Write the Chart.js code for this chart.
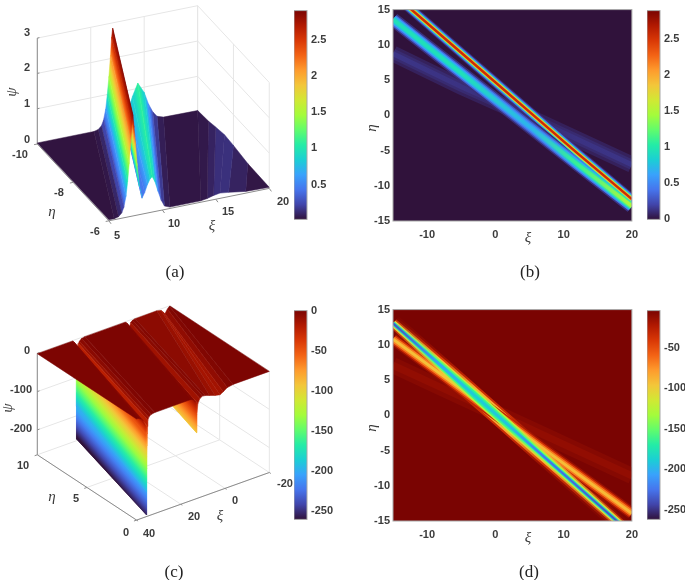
<!DOCTYPE html>
<html>
<head>
<meta charset="utf-8">
<script src="https://cdn.jsdelivr.net/npm/chart.js@4"></script>
<style>
html, body { margin: 0; background: #fff; }
#page { position: relative; width: 685px; height: 580px; overflow: hidden; }
canvas { position: absolute; filter: blur(0.45px); }
.cap { position: absolute; transform: translateX(-50%); font: 17px "Liberation Serif", serif; color: #222; }
</style>
</head>
<body>
<div id="page">
  <canvas id="surfA" width="340" height="290" style="left:0;top:0"></canvas>
  <canvas id="barA" width="46" height="230" style="left:294px;top:0"></canvas>
  <canvas id="heatB" width="300" height="250" style="left:345px;top:0"></canvas>
  <canvas id="barB" width="38" height="230" style="left:647px;top:0"></canvas>
  <canvas id="surfC" width="340" height="290" style="left:0;top:290px"></canvas>
  <canvas id="barC" width="46" height="230" style="left:294px;top:300px"></canvas>
  <canvas id="heatD" width="300" height="250" style="left:345px;top:300px"></canvas>
  <canvas id="barD" width="38" height="230" style="left:647px;top:300px"></canvas>
  <div class="cap" style="left:175px;top:262px">(a)</div>
  <div class="cap" style="left:530px;top:262px">(b)</div>
  <div class="cap" style="left:174px;top:562px">(c)</div>
  <div class="cap" style="left:529px;top:562px">(d)</div>
</div>
<script>
// panel (a), surface strips, low xi to high xi
const aBackXi   = [5, 10.3, 10.7, 11.0, 11.2, 11.4, 11.55, 11.7, 11.85, 11.95, 12.05, 12.15, 12.3, 12.45, 12.65, 12.9, 13.2, 13.5, 13.9, 14.4, 15, 15.4, 15.8, 16.2, 16.8, 20, 20, 20, 20, 20, 20, 20];
const aBackEta  = [-10, -10, -10, -10, -10, -10, -10, -10, -10, -10, -10, -10, -10, -10, -10, -10, -10, -10, -10, -10, -10, -10, -10, -10, -10, -10, -9.4, -9, -8.5, -8, -7.2, -6];
const aBackPsi  = [.03, .03, .06, .15, .3, .6, 1.0, 1.5, 2.1, 2.6, 2.85, 2.6, 2.1, 1.5, .9, .45, .3, .45, .8, 1.15, .85, .5, .25, .1, .04, .03, .06, .11, .16, .13, .05, .03];
const aFrontXi  = [5, 5.5, 5.9, 6.2, 6.4, 6.6, 6.75, 6.9, 7.05, 7.15, 7.25, 7.35, 7.5, 7.65, 7.85, 8.1, 8.35, 8.6, 8.85, 9.05, 9.3, 9.6, 9.9, 10.2, 10.7, 13.6, 14.2, 14.8, 15.4, 16.2, 17.8, 20];
const aFrontPsi = [.03, .03, .06, .15, .3, .6, 1.0, 1.5, 2.1, 2.6, 2.85, 2.5, 2.0, 1.4, .8, .45, .6, .8, .95, 1.0, .85, .55, .28, .1, .04, .04, .07, .12, .15, .12, .05, .03];
const aXiTicks = [5, 10, 15, 20];
const aEtaTicks = [-10, -8, -6];
const aPsiTicks = [0, 1, 2, 3];

// panel (b), ridges along xi, each row of levels is one nested band
const bStations = [-15, -5, 5, 12, 20];
const bRidge1Eta = [17.27, 8.88, 0.49, -5.38, -11.9];
const bRidge2Eta = [13.6, 6.0, -1.6, -6.92, -12.9];
const bRidge3Eta = [8.75, 4.04, -0.25, -3.4, -7];
const bRidge1Levels = [
  [.12, .12, .12, .12, .12], [.4, .4, .4, .4, .4], [.8, .8, .8, .8, .8],
  [1.4, 1.4, 1.4, 1.4, 1.4], [2.0, 2.0, 2.0, 2.0, 2.0], [2.55, 2.55, 2.55, 2.55, 2.55]
];
const bRidge2Levels = [
  [.12, .12, .1, .12, .15], [.35, .35, .25, .4, .5], [.6, .6, .42, .65, .85],
  [.8, .8, .58, .9, 1.2], [.95, .95, .7, 1.1, 1.5]
];
const bRidge3Levels = [
  [.06, .06, .05, .06, .06], [.1, .1, .08, .1, .1], [.14, .13, .1, .13, .14]
];

// panel (c), strips from the eta=10 edge to the eta=0 edge, low xi to high xi
const cBackXi  = [-20, -19.7, -18.8, -17.7, -16.9, -16, -14, -4.2, -3, -2.2, -1.7, -1.4, -1.15, -1, -.8, -.4, .3, 18.5, 20, 21, 21.4, 21.6, 21.75, 21.85, 21.95, 22.05, 22.1, 22.15, 22.2, 22.3, 22.4, 22.55, 22.8, 23.1, 23.4, 24, 40];
const cFrontXi = [-20, -3.6, -1, .8, 2.3, 4.5, 7, 9, 10.2, 11.4, 12.3, 12.7, 12.9, 13, 13.4, 14.2, 15.5, 31.8, 33.5, 34.5, 34.9, 35.05, 35.15, 35.25, 35.3, 35.35, 35.4, 35.45, 35.5, 35.6, 35.7, 35.9, 36.2, 37, 38, 39.2, 40];
const cBackPsi  = [-1, -1, -6, -16, -10, -4, -1, -1.2, -3, -7, -18, -45, -93, -45, -12, -4, -1, -1, -3, -8, -13, -22, -35, -60, -85, -110, -140, -175, -261, -175, -75, -35, -18, -10, -5, -1, -1];
const cFrontPsi = [-1, -1, -4, -11, -16, -13, -8, -4, -3, -7, -18, -45, -93, -45, -12, -4, -1, -1, -3, -8, -15, -30, -50, -80, -110, -140, -170, -200, -261, -200, -100, -50, -25, -12, -5, -1, -1];
const cXiTicks = [40, 20, 0, -20];
const cEtaTicks = [0, 5, 10];
const cPsiTicks = [0, -100, -200];

// panel (d)
const dStations = [-15, -8, -3, 2, 7, 20];
const dRidge1Eta = [13.05, 7.07, 2.79, -1.49, -5.76, -16.88];
const dRidge2Eta = [10.8, 5.86, 2.33, -1.2, -4.73, -13.9];
const dRidge3Eta = [7.1, 3.96, 1.72, -.53, -2.77, -8.6];
const dRidge1Levels = [
  [-4, -14, -35, -35, -12, -4], [-4, -40, -85, -85, -40, -4], [-30, -100, -130, -125, -90, -30],
  [-100, -150, -165, -160, -135, -100], [-180, -185, -180, -180, -180, -180], [-238, -205, -190, -195, -225, -240]
];
const dRidge2Levels = [
  [-14, -14, -30, -30, -14, -14], [-38, -38, -55, -55, -38, -38], [-68, -68, -80, -80, -68, -68], [-92, -95, -100, -100, -92, -90]
];
const dRidge3Levels = [
  [-8, -8, -8, -8, -8, -8], [-12, -12, -12, -12, -12, -12]
];

const heatXTicks = [-10, 0, 10, 20];
const heatYTicks = [-15, -10, -5, 0, 5, 10, 15];

// colorbars
const aBarRange = [0.02, 2.9];
const aBarTicks = [0.5, 1, 1.5, 2, 2.5];
const bBarRange = [0, 2.89];
const bBarTicks = [0, 0.5, 1, 1.5, 2, 2.5];
const cBarRange = [-261, 0];
const cBarTicks = [-250, -200, -150, -100, -50, 0];
const dBarRange = [-262, -4];
const dBarTicks = [-250, -200, -150, -100, -50];

const turbo = ['#30123b', '#4145ab', '#4675ed', '#39a2fc', '#1bcfd4', '#24eca6', '#61fc6c', '#a4fc3b', '#d1e834', '#f3c63a', '#fe9b2d', '#f36315', '#d93806', '#b11901', '#7a0402'];

const tickFont = { family: '"Liberation Sans", Arial, sans-serif', size: 11, weight: 'bold' };
const tickColor = '#3c3c3c';
const labelFont = 'italic 15px "Liberation Serif", serif';
const gridColor = '#e6e6e6';
const axisColor = '#8c8c8c';

function hex(c) { return [1, 3, 5].map(i => parseInt(c.substr(i, 2), 16)); }

function turboColor(v, range) {
  const t = Math.min(1, Math.max(0, (v - range[0]) / (range[1] - range[0]))) * (turbo.length - 1);
  const i = Math.min(turbo.length - 2, Math.floor(t));
  const a = hex(turbo[i]), b = hex(turbo[i + 1]), f = t - i;
  return 'rgb(' + a.map((x, k) => Math.round(x + (b[k] - x) * f)).join(',') + ')';
}

// draws axis words and 3d tick labels, every chart passes its own list
const textPlugin = {
  id: 'panelText',
  afterDraw(chart, args, opts) {
    const ctx = chart.ctx;
    (opts.items || []).forEach(it => {
      ctx.save();
      ctx.translate(it.x, it.y);
      if (it.rot) ctx.rotate(it.rot);
      ctx.font = it.font || (tickFont.weight + ' ' + tickFont.size + 'px ' + tickFont.family);
      ctx.fillStyle = tickColor;
      ctx.textAlign = 'center';
      ctx.textBaseline = 'middle';
      ctx.fillText(it.text, 0, 0);
      ctx.restore();
    });
  }
};

const framePlugin = {
  id: 'heatFrame',
  beforeDatasetsDraw(chart, args, opts) {
    if (!opts.fill) return;
    const a = chart.chartArea;
    chart.ctx.fillStyle = opts.fill;
    chart.ctx.fillRect(a.left, a.top, a.width, a.height);
  },
  afterDatasetsDraw(chart, args, opts) {
    if (!opts.frame) return;
    const a = chart.chartArea;
    chart.ctx.strokeStyle = '#a8a8a8';
    chart.ctx.lineWidth = 1;
    chart.ctx.strokeRect(a.left, a.top, a.width, a.height);
  }
};

Chart.register(textPlugin, framePlugin);

function makeColorbar(id, range, ticks) {
  const canvas = document.getElementById(id);
  new Chart(canvas, {
    type: 'bar',
    data: {
      labels: [''],
      datasets: [{
        data: [range],
        barPercentage: 1,
        categoryPercentage: 1,
        backgroundColor(c) {
          const area = c.chart.chartArea;
          if (!area) return '#000';
          const g = c.chart.ctx.createLinearGradient(0, area.bottom, 0, area.top);
          turbo.forEach((col, i) => g.addColorStop(i / (turbo.length - 1), col));
          return g;
        }
      }]
    },
    options: {
      responsive: false,
      animation: false,
      layout: { padding: { top: 5, bottom: 9 } },
      plugins: { legend: { display: false }, tooltip: { enabled: false }, heatFrame: { frame: true } },
      scales: {
        x: { display: false },
        y: {
          position: 'right',
          min: range[0],
          max: range[1],
          grid: { display: false, drawTicks: false },
          border: { display: false },
          afterBuildTicks(s) { s.ticks = ticks.map(v => ({ value: v })); },
          afterFit(s) { s.width = canvas.width - 13; },
          ticks: { font: tickFont, color: tickColor, padding: 4, autoSkip: false, callback: v => String(v) }
        }
      }
    }
  });
}

function bandSets(stations, etas, levels, widths, range) {
  const pts = stations.map((x, i) => ({ x: x, y: etas[i] }));
  return levels.map((row, k) => ({
    data: pts,
    showLine: true,
    pointRadius: 0,
    tension: 0,
    borderWidth: widths[k],
    borderCapStyle: 'butt',
    borderColor(c) {
      const s = c.chart.scales.x;
      if (!s || !c.chart.chartArea) return '#000';
      const g = c.chart.ctx.createLinearGradient(s.left, 0, s.right, 0);
      stations.forEach((x, i) => g.addColorStop((x - s.min) / (s.max - s.min), turboColor(row[i], range)));
      return g;
    }
  }));
}

function makeHeat(id, bands, bgValue, range, items) {
  const canvas = document.getElementById(id);
  // chart draws the first dataset last, bands are listed in paint order
  new Chart(canvas, {
    type: 'scatter',
    data: { datasets: bands.flat().reverse() },
    options: {
      responsive: false,
      animation: false,
      layout: { padding: { top: 5, right: 11 } },
      plugins: {
        legend: { display: false },
        tooltip: { enabled: false },
        heatFrame: { frame: true, fill: turboColor(bgValue, range) },
        panelText: { items: items }
      },
      scales: {
        x: {
          type: 'linear', min: -15, max: 20,
          grid: { display: false, drawTicks: false },
          border: { display: false },
          afterBuildTicks(s) { s.ticks = heatXTicks.map(v => ({ value: v })); },
          afterFit(s) { s.height = 29; },
          ticks: { font: tickFont, color: tickColor, padding: 7, maxRotation: 0, autoSkip: false, callback: v => String(v) }
        },
        y: {
          type: 'linear', min: -15, max: 15,
          grid: { display: false, drawTicks: false },
          border: { display: false },
          afterBuildTicks(s) { s.ticks = heatYTicks.map(v => ({ value: v })); },
          afterFit(s) { s.width = 48; },
          ticks: { font: tickFont, color: tickColor, padding: 3, autoSkip: false, callback: v => String(v) }
        }
      }
    }
  });
}

// one strip of a surface, shaded across its width from v0 to v1
// small steps stay solid, a gradient on a fanned strip shows seams
function stripSet(p0, p1, q1, q0, v0, v1, range) {
  const solid = turboColor((v0 + v1) / 2, range);
  const shade = c => {
    const sx = c.chart.scales.x, sy = c.chart.scales.y;
    if (!sx || !c.chart.chartArea) return solid;
    if (Math.abs(v1 - v0) / (range[1] - range[0]) < 0.06) return solid;
    const px = p => ({ x: sx.getPixelForValue(p.x), y: sy.getPixelForValue(p.y) });
    const a0 = px(p0), b0 = px(q0), a1 = px(p1), b1 = px(q1);
    const m0 = { x: (a0.x + b0.x) / 2, y: (a0.y + b0.y) / 2 };
    const m1 = { x: (a1.x + b1.x) / 2, y: (a1.y + b1.y) / 2 };
    const dx = (b0.x - a0.x) + (b1.x - a1.x), dy = (b0.y - a0.y) + (b1.y - a1.y);
    const len = Math.hypot(dx, dy) || 1;
    const nx = -dy / len, ny = dx / len;
    const d = (m1.x - m0.x) * nx + (m1.y - m0.y) * ny;
    if (Math.abs(d) < 0.01) return solid;
    const g = c.chart.ctx.createLinearGradient(m0.x, m0.y, m0.x + nx * d, m0.y + ny * d);
    for (let k = 0; k <= 6; k++) g.addColorStop(k / 6, turboColor(v0 + (v1 - v0) * k / 6, range));
    return g;
  };
  return {
    data: [p0, p1, q1, q0, p0],
    showLine: true,
    pointRadius: 0,
    tension: 0,
    fill: 'shape',
    backgroundColor: shade,
    borderColor: shade,
    borderWidth: 0.5
  };
}

function lineSet(pts, color, w) {
  return { data: pts, showLine: true, pointRadius: 0, tension: 0, fill: false, borderColor: color, borderWidth: w };
}

function makeSurface(id, sets, items) {
  const canvas = document.getElementById(id);
  new Chart(canvas, {
    type: 'scatter',
    data: { datasets: sets.slice().reverse() },
    options: {
      responsive: false,
      animation: false,
      layout: { padding: 0 },
      plugins: { legend: { display: false }, tooltip: { enabled: false }, panelText: { items: items } },
      scales: {
        x: { type: 'linear', display: false, min: 0, max: canvas.width },
        y: { type: 'linear', display: false, min: 0, max: canvas.height, reverse: true }
      }
    }
  });
}

// ---- panel a
const pa = (xi, eta, psi) => ({
  x: 37.3 + (xi - 5) * 10.69 + (eta + 10) * 17.9,
  y: 144 - (xi - 5) * 2.16 + (eta + 10) * 19.2 - psi * 35.3
});
const aSets = [];
aPsiTicks.forEach(p => {
  aSets.push(lineSet([pa(5, -10, p), pa(20, -10, p), pa(20, -6, p)], gridColor, 1));
});
aXiTicks.forEach(x => {
  aSets.push(lineSet([pa(x, -10, 0), pa(x, -10, 3)], gridColor, 1));
});
aEtaTicks.forEach(e => {
  aSets.push(lineSet([pa(20, e, 0), pa(20, e, 3)], gridColor, 1));
});
aSets.push(lineSet([pa(5, -6, 0), pa(20, -6, 0)], axisColor, 1));
aSets.push(lineSet([pa(5, -10, 0), pa(5, -6, 0)], axisColor, 1));
aSets.push(lineSet([pa(5, -10, 0), pa(5, -10, 3)], axisColor, 1));
aXiTicks.forEach(x => aSets.push(lineSet([pa(x, -6, 0), pa(x - .05, -5.85, 0)], axisColor, 1)));
aEtaTicks.forEach(e => aSets.push(lineSet([pa(5, e, 0), pa(4.7, e, 0)], axisColor, 1)));
aPsiTicks.forEach(p => aSets.push(lineSet([pa(5, -10, p), pa(5.2, -10, p)], axisColor, 1)));
// far strips first
for (let i = aBackXi.length - 2; i >= 0; i--) {
  aSets.push(stripSet(
    pa(aBackXi[i + 1], aBackEta[i + 1], aBackPsi[i + 1]),
    pa(aBackXi[i], aBackEta[i], aBackPsi[i]),
    pa(aFrontXi[i], -6, aFrontPsi[i]),
    pa(aFrontXi[i + 1], -6, aFrontPsi[i + 1]),
    (aBackPsi[i + 1] + aFrontPsi[i + 1]) / 2,
    (aBackPsi[i] + aFrontPsi[i]) / 2,
    aBarRange
  ));
}
makeSurface('surfA', aSets, [
  { text: '3', x: 27, y: 33 }, { text: '2', x: 27, y: 68 }, { text: '1', x: 27, y: 104 }, { text: '0', x: 27, y: 140 },
  { text: '-10', x: 20, y: 155 }, { text: '-8', x: 59, y: 193 }, { text: '-6', x: 95, y: 232 },
  { text: '5', x: 117, y: 236 }, { text: '10', x: 174, y: 224 }, { text: '15', x: 228, y: 212 }, { text: '20', x: 283, y: 202 },
  { text: 'ψ', x: 12, y: 92, font: labelFont, rot: -Math.PI / 2 },
  { text: 'η', x: 52, y: 212, font: labelFont },
  { text: 'ξ', x: 212, y: 226, font: labelFont }
]);
makeColorbar('barA', aBarRange, aBarTicks);

// ---- panel b
makeHeat('heatB', [
  bandSets(bStations, bRidge3Eta, bRidge3Levels, [16, 10, 5], bBarRange),
  bandSets(bStations, bRidge1Eta, bRidge1Levels.slice(0, 2), [10, 8], bBarRange),
  bandSets(bStations, bRidge2Eta, bRidge2Levels, [14, 11, 8.5, 6, 3.5], bBarRange),
  bandSets(bStations, bRidge1Eta, bRidge1Levels.slice(2), [6, 4.6, 3.6, 2.4], bBarRange)
], 0, bBarRange, [
  { text: 'ξ', x: 528 - 345, y: 238, font: labelFont },
  { text: 'η', x: 372 - 345, y: 128, font: labelFont, rot: -Math.PI / 2 }
]);
makeColorbar('barB', bBarRange, bBarTicks);

// ---- panel c
const pc = (xi, eta, psi) => ({
  x: 136.6 - (xi - 40) * 2.212 - eta * 9.93,
  y: 128.6 + (xi - 40) * 0.793 - eta * 6.53 - psi * 0.383
});
const cSets = [];
const cFloor = -265;
cPsiTicks.forEach(p => {
  cSets.push(lineSet([pc(40, 10, p), pc(-20, 10, p), pc(-20, 0, p)], gridColor, 1));
});
cXiTicks.forEach(x => {
  cSets.push(lineSet([pc(x, 10, cFloor), pc(x, 10, 0)], gridColor, 1));
  cSets.push(lineSet([pc(x, 10, cFloor), pc(x, 0, cFloor)], gridColor, 1));
});
cEtaTicks.forEach(e => {
  cSets.push(lineSet([pc(-20, e, cFloor), pc(-20, e, 0)], gridColor, 1));
  cSets.push(lineSet([pc(40, e, cFloor), pc(-20, e, cFloor)], gridColor, 1));
});
cSets.push(lineSet([pc(40, 0, cFloor), pc(-20, 0, cFloor)], axisColor, 1));
cSets.push(lineSet([pc(40, 10, cFloor), pc(40, 0, cFloor)], axisColor, 1));
cSets.push(lineSet([pc(40, 10, cFloor), pc(40, 10, 0)], axisColor, 1));
cXiTicks.forEach(x => cSets.push(lineSet([pc(x, 0, cFloor), pc(x, -.15, cFloor)], axisColor, 1)));
cEtaTicks.forEach(e => cSets.push(lineSet([pc(40, e, cFloor), pc(41.2, e, cFloor)], axisColor, 1)));
cPsiTicks.forEach(p => cSets.push(lineSet([pc(40, 10, p), pc(39, 10, p)], axisColor, 1)));
for (let i = 0; i < cBackXi.length - 1; i++) {
  cSets.push(stripSet(
    pc(cBackXi[i], 10, cBackPsi[i]),
    pc(cBackXi[i + 1], 10, cBackPsi[i + 1]),
    pc(cFrontXi[i + 1], 0, cFrontPsi[i + 1]),
    pc(cFrontXi[i], 0, cFrontPsi[i]),
    cFrontPsi[i],
    cFrontPsi[i + 1],
    cBarRange
  ));
}
makeSurface('surfC', cSets, [
  { text: '0', x: 27, y: 61 }, { text: '-100', x: 21, y: 100 }, { text: '-200', x: 21, y: 139 },
  { text: '10', x: 23, y: 176 }, { text: '5', x: 76, y: 209 }, { text: '0', x: 126, y: 243 },
  { text: '40', x: 149, y: 244 }, { text: '20', x: 194, y: 227 }, { text: '0', x: 235, y: 211 }, { text: '-20', x: 285, y: 194 },
  { text: 'ψ', x: 8, y: 118, font: labelFont, rot: -Math.PI / 2 },
  { text: 'η', x: 52, y: 207, font: labelFont },
  { text: 'ξ', x: 220, y: 226, font: labelFont }
]);
makeColorbar('barC', cBarRange, cBarTicks);

// ---- panel d
makeHeat('heatD', [
  bandSets(dStations, dRidge3Eta, dRidge3Levels, [16, 7], dBarRange),
  bandSets(dStations, dRidge1Eta, dRidge1Levels.slice(0, 2), [18, 14], dBarRange),
  bandSets(dStations, dRidge2Eta, dRidge2Levels, [12, 9, 6, 3], dBarRange),
  bandSets(dStations, dRidge1Eta, dRidge1Levels.slice(2), [10, 7, 4, 2], dBarRange)
], -4, dBarRange, [
  { text: 'ξ', x: 528 - 345, y: 238, font: labelFont },
  { text: 'η', x: 372 - 345, y: 128, font: labelFont, rot: -Math.PI / 2 }
]);
makeColorbar('barD', dBarRange, dBarTicks);
</script>
</body>
</html>
